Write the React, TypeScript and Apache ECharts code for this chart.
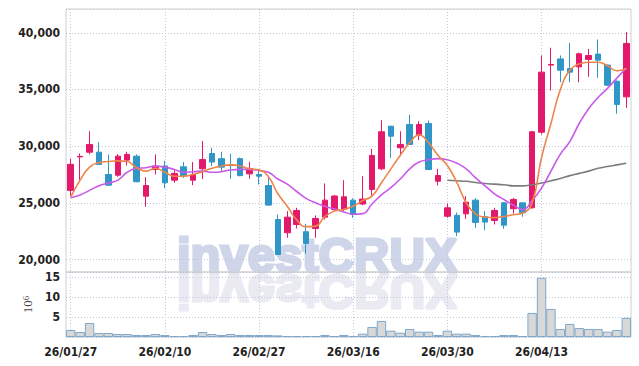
import React, { useEffect, useRef } from "react";
import * as echarts from "echarts";

const dates = [
  "26/01/27", "26/01/28", "26/01/29", "26/01/30", "26/02/02", "26/02/03", "26/02/04", "26/02/05", "26/02/06", "26/02/09",
  "26/02/10", "26/02/11", "26/02/12", "26/02/13", "26/02/19", "26/02/20", "26/02/23", "26/02/24", "26/02/25", "26/02/26",
  "26/02/27", "26/03/03", "26/03/04", "26/03/05", "26/03/06", "26/03/09", "26/03/10", "26/03/11", "26/03/12", "26/03/13",
  "26/03/16", "26/03/17", "26/03/18", "26/03/19", "26/03/20", "26/03/23", "26/03/24", "26/03/25", "26/03/26", "26/03/27",
  "26/03/30", "26/03/31", "26/04/01", "26/04/02", "26/04/03", "26/04/06", "26/04/07", "26/04/08", "26/04/09", "26/04/10",
  "26/04/13", "26/04/14", "26/04/15", "26/04/16", "26/04/17", "26/04/20", "26/04/21", "26/04/22", "26/04/23", "26/04/24",
];

const opens = [
  26100, 29050, 29470, 29470, 27500, 27440, 28770, 29120, 25590, 27950,
  28250, 27000, 28180, 27000, 28000, 29350, 28900, 28350, 28900, 27560,
  27500, 26530, 23530, 22360, 23090, 22450, 22740, 23740, 24400, 24420,
  25240, 24900, 26180, 28000, 31760, 29860, 31910, 30970, 32000, 26910,
  23820, 23900, 24030, 25240, 23770, 23440, 25000, 24480, 25000, 24560,
  31230, 37150, 37700, 36850, 37000, 37650, 38120, 37150, 35730, 34350,
];
const closes = [
  28400, 29100, 30150, 28380, 26560, 29120, 29270, 26860, 26530, 28250,
  26770, 27600, 27410, 27500, 28820, 28600, 28150, 28300, 27400, 28030,
  27350, 24800, 20450, 23740, 24330, 21420, 23620, 25240, 25600, 25530,
  23970, 25330, 29180, 31270, 30880, 30150, 30150, 31910, 27940, 27410,
  24560, 22420, 25060, 23270, 23300, 24330, 23030, 25300, 24120, 31270,
  36530, 37200, 36700, 36530, 38150, 38000, 37590, 35380, 33680, 39060,
];
const lows = [
  25650, 27000, 29270, 28350, 26500, 27300, 28300, 26800, 24650, 27500,
  26300, 26780, 27200, 26560, 27100, 28240, 27800, 27120, 27350, 27120,
  26620, 24750, 20400, 21920, 22740, 20500, 21920, 23530, 24300, 24270,
  23680, 24800, 25650, 27880, 28970, 29120, 30100, 30530, 27900, 26530,
  23680, 22060, 23590, 22800, 22590, 23090, 22710, 24060, 23770, 24500,
  31030, 34910, 35640, 35640, 35640, 36120, 36030, 35300, 32860, 33380,
];
const highs = [
  28900, 29350, 31320, 30350, 29270, 29300, 29500, 29270, 27270, 29270,
  28700, 27950, 28600, 28600, 30450, 29860, 29500, 29330, 29000, 28620,
  28000, 27200, 23970, 24270, 24560, 23150, 23890, 26710, 25700, 27000,
  25400, 27350, 29770, 32290, 31800, 31320, 32790, 32200, 32260, 28000,
  24950, 24150, 25590, 25410, 24270, 24560, 25060, 25440, 25050, 31350,
  38000, 38680, 38000, 39120, 38250, 38590, 39410, 37200, 35800, 40060,
];

// volume in millions of shares
const volumes = [
  1.75, 1.25, 3.5, 1.0, 1.0, 0.75, 0.75, 0.5, 0.5, 0.75,
  0.5, 0.25, 0.25, 0.5, 1.25, 0.75, 0.5, 0.75, 0.5, 0.5,
  0.5, 0.5, 0.4, 0.25, 0.25, 0.25, 0.25, 0.5, 0.25, 0.5,
  0.25, 0.83, 2.5, 4.0, 1.58, 1.08, 2.0, 1.33, 1.33, 0.5,
  1.58, 0.83, 0.83, 0.5, 0.25, 0.25, 0.5, 0.5, 0.25, 6.0,
  14.75, 7.0, 2.0, 3.25, 2.25, 2.0, 2.0, 1.33, 1.75, 4.75,
];

const maShort = [
  25500, 27000, 28150, 28550, 28650, 28700, 28650, 28100, 27800, 28050,
  27700, 27350, 27350, 27500, 27750, 28050, 28250, 28350, 28250, 28000,
  27900, 27300, 25800, 24700, 23500, 22900, 22950, 23800, 24270, 24420,
  24700, 25200, 25600, 26770, 28000, 29200, 30300, 31000, 30300, 29200,
  28300, 26800, 25000, 24000, 23750, 23700, 23800, 23950, 24100, 25000,
  29000, 32000, 35000, 36700, 37250, 37400, 37400, 37100, 36650, 36850,
];
const maMid = [
  25450, 25700, 26100, 26500, 26750, 27000, 27700, 28050, 28100, 28240,
  28150, 27950, 27700, 27750, 27800, 27700, 27750, 27900, 27950, 27950,
  27850, 27700, 27100, 26650, 26000, 25400, 25000, 24700, 24450, 24200,
  24000, 24050, 24900, 25700, 26350, 27100, 28000, 28600, 28800, 28900,
  28800, 28500, 28000, 27200, 26500, 25800, 25300, 24800, 24400, 25200,
  26300, 27800, 29300, 30400, 32000, 33300, 34300, 35100, 36000, 36900,
];
const maLong = [
  null, null, null, null, null, null, null, null, null, null,
  null, null, null, null, null, null, null, null, null, null,
  null, null, null, null, null, null, null, null, null, null,
  null, null, null, null, null, null, null, null, null, null,
  27000, 26950, 26900, 26800, 26700, 26650, 26600, 26500, 26500, 26600,
  26750, 26950, 27150, 27400, 27600, 27800, 28050, 28200, 28350, 28500,
];

const RED = "#e3196b";
const BLUE = "#3096c8";
const GRID_DOT = { type: [1, 2] as any, color: "#c3c7da", width: 1 };
const LABEL_FONT = "DejaVu Sans Condensed";

export default function App() {
  const ref = useRef<HTMLDivElement>(null);

  useEffect(() => {
    if (!ref.current) return;
    const chart = echarts.init(ref.current, null, { renderer: "svg" });
    const candleData = dates.map((_, i) => [opens[i], closes[i], lows[i], highs[i]]);

    const wmStyle = {
      text: "investCRUX",
      fontFamily: "Liberation Sans",
      fontWeight: "bold",
      fontSize: 49,
      verticalAlign: "middle",
      lineWidth: 3,
    };

    const option: any = {
      animation: false,
      backgroundColor: "#ffffff",
      graphic: [
        {
          type: "text",
          z: -1,
          x: 177,
          y: 292,
          scaleY: -1,
          style: { ...wmStyle, fill: "#eaeaf2", stroke: "#eaeaf2" },
        },
        {
          type: "text",
          z: -1,
          x: 177,
          y: 255,
          style: { ...wmStyle, fill: "#d0d6ea", stroke: "#d0d6ea" },
        },
      ],
      grid: [
        { left: 66, right: 8, top: 9, height: 263, show: true, borderColor: "#d0d0d0", borderWidth: 1 },
        { left: 66, right: 8, top: 272, height: 65, show: true, borderColor: "#d0d0d0", borderWidth: 1 },
      ],
      xAxis: [
        {
          type: "category",
          gridIndex: 0,
          data: dates,
          boundaryGap: true,
          axisLine: { show: false },
          axisTick: { show: false },
          axisLabel: { show: false, interval: 9 },
          splitLine: { show: true, interval: 9, alignWithLabel: true, lineStyle: GRID_DOT },
        },
        {
          type: "category",
          gridIndex: 1,
          data: dates,
          boundaryGap: true,
          axisLine: { show: false },
          axisTick: { show: false, interval: 9, alignWithLabel: true },
          axisLabel: {
            interval: 9,
            margin: 9,
            color: "#222",
            fontSize: 12,
            fontWeight: "bold",
            fontFamily: LABEL_FONT,
          },
          splitLine: { show: true, interval: 9, alignWithLabel: true, lineStyle: GRID_DOT },
        },
      ],
      yAxis: [
        {
          type: "value",
          gridIndex: 0,
          min: 18900,
          max: 42100,
          splitNumber: 5,
          axisLine: { show: false },
          axisTick: { show: false },
          axisLabel: {
            showMinLabel: false,
            showMaxLabel: false,
            margin: 6,
            color: "#222",
            fontSize: 12,
            fontWeight: "bold",
            fontFamily: LABEL_FONT,
            formatter: (v: number) => (v % 5000 === 0 ? v.toLocaleString("en-US") : ""),
          },
          splitLine: { show: true, lineStyle: GRID_DOT },
        },
        {
          type: "value",
          gridIndex: 1,
          min: 0,
          max: 16.2,
          interval: 5,
          name: "10{s|6}",
          nameLocation: "middle",
          nameRotate: 90,
          nameGap: 30,
          nameTextStyle: {
            fontFamily: "Liberation Serif",
            fontSize: 13,
            color: "#444",
            rich: {
              s: { fontFamily: "Liberation Serif", fontSize: 9, color: "#444", verticalAlign: "top" },
            },
          },
          axisLine: { show: false },
          axisTick: { show: false },
          axisLabel: {
            showMinLabel: false,
            showMaxLabel: false,
            margin: 6,
            color: "#222",
            fontSize: 12,
            fontWeight: "bold",
            fontFamily: LABEL_FONT,
            formatter: (v: number) => (v > 0 && v % 5 === 0 ? String(v) : ""),
          },
          splitLine: { show: true, lineStyle: GRID_DOT },
        },
      ],
      series: [
        {
          type: "candlestick",
          xAxisIndex: 0,
          yAxisIndex: 0,
          data: candleData,
          barWidth: 6,
          itemStyle: {
            color: RED,
            color0: BLUE,
            borderColor: RED,
            borderColor0: BLUE,
            borderWidth: 1,
          },
          z: 3,
        },
        {
          type: "line",
          xAxisIndex: 0,
          yAxisIndex: 0,
          data: maLong,
          smooth: true,
          symbol: "none",
          lineStyle: { color: "#7c7c7c", width: 1.6 },
          z: 4,
        },
        {
          type: "line",
          xAxisIndex: 0,
          yAxisIndex: 0,
          data: maMid,
          smooth: true,
          symbol: "none",
          lineStyle: { color: "#c95aea", width: 1.6 },
          z: 4,
        },
        {
          type: "line",
          xAxisIndex: 0,
          yAxisIndex: 0,
          data: maShort,
          smooth: true,
          symbol: "none",
          lineStyle: { color: "#ee844a", width: 1.6 },
          z: 5,
        },
        {
          type: "bar",
          xAxisIndex: 1,
          yAxisIndex: 1,
          data: volumes,
          barWidth: "100%",
          itemStyle: { color: "#d8d8d8", borderColor: "#7fa8cb", borderWidth: 1 },
        },
      ],
    };

    chart.setOption(option);
    return () => chart.dispose();
  }, []);

  return <div ref={ref} style={{ width: 639, height: 366, position: "absolute", left: 0, top: 0 }} />;
}
